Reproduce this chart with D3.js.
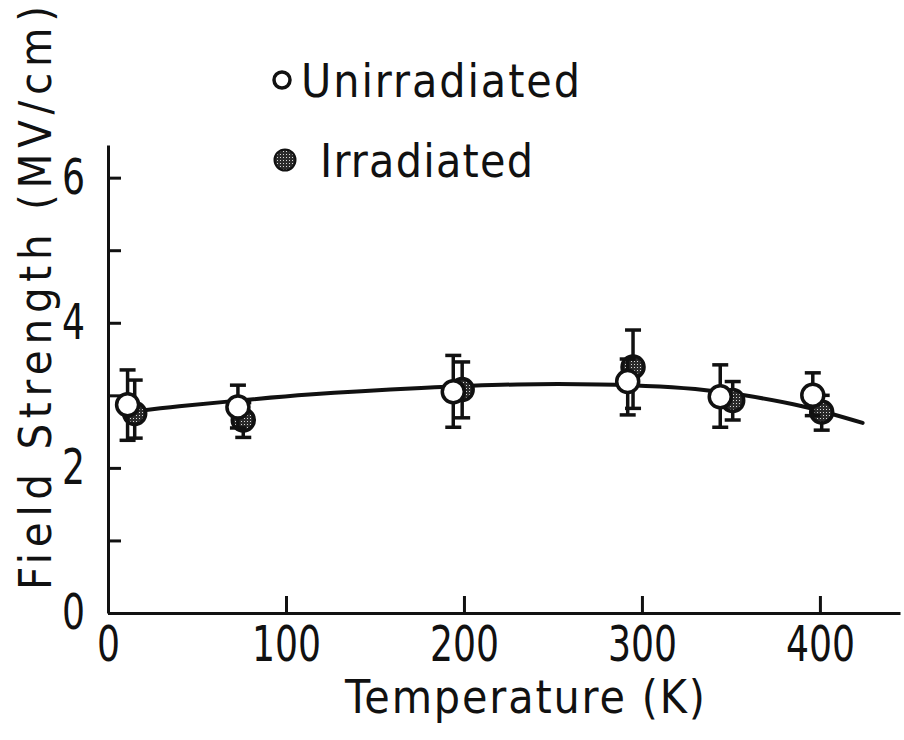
<!DOCTYPE html>
<html>
<head>
<meta charset="utf-8">
<script src="https://cdn.jsdelivr.net/npm/d3@7"></script>
<style>
  html, body { margin: 0; padding: 0; background: #fff; }
  svg { display: block; }
  text { font-family: "DejaVu Sans Condensed", "DejaVu Sans", sans-serif; fill: #111; }
</style>
</head>
<body>
<svg id="chart" width="904" height="740"></svg>
<script>
// Breakdown field strength of the oxide vs. temperature
const temperatures = {
  unirradiated: [11, 73, 194, 292, 344, 396],
  irradiated:   [15, 76, 199, 295, 351, 401]
};
const unirradiatedMean = [2.87, 2.84, 3.05, 3.19, 2.98, 3.00];
const unirradiatedLow  = [2.38, 2.55, 2.56, 2.73, 2.56, 2.72];
const unirradiatedHigh = [3.35, 3.14, 3.55, 3.50, 3.42, 3.31];
const irradiatedMean   = [2.75, 2.66, 3.08, 3.39, 2.93, 2.77];
const irradiatedLow    = [2.41, 2.42, 2.69, 2.82, 2.66, 2.52];
const irradiatedHigh   = [3.21, 2.90, 3.46, 3.90, 3.19, 3.00];

// Hand-drawn trend curve through both data sets
const trendT = [15, 40, 70, 113, 176, 230, 276, 310, 336, 355, 390, 424];
const trendE = [2.78, 2.85, 2.92, 3.01, 3.10, 3.15, 3.15, 3.12, 3.07, 3.01, 2.85, 2.62];

const xTicks = [0, 100, 200, 300, 400];
const yTicks = [0, 1, 2, 3, 4, 5, 6];
const yLabels = [0, 2, 4, 6];

const svg = d3.select("#chart");

const x = d3.scaleLinear().domain([0, 445]).range([108, 900]);
const y = d3.scaleLinear().domain([0, 6.45]).range([613, 145]);

// stipple pattern for the filled (irradiated) symbols
const defs = svg.append("defs");
const pat = defs.append("pattern")
  .attr("id", "stipple").attr("patternUnits", "userSpaceOnUse")
  .attr("width", 3).attr("height", 3);
pat.append("rect").attr("width", 3).attr("height", 3).attr("fill", "#2b2b2b");
pat.append("rect").attr("x", 1).attr("y", 1).attr("width", 1).attr("height", 1).attr("fill", "#d8d8d8");

// narrow, tall digits for the tick labels
function styleTickText(sel) {
  sel.attr("font-size", 49).attr("fill", "#111")
    .attr("lengthAdjust", "spacingAndGlyphs")
    .attr("textLength", function () {
      const s = d3.select(this).text();
      return s.length ? s.length * 23 : null;
    });
}

// axes
const xAxis = d3.axisBottom(x).tickValues(xTicks).tickSizeInner(-17).tickSizeOuter(0)
  .tickPadding(13).tickFormat(d3.format("d"));
const gx = svg.append("g").attr("transform", `translate(0,${y(0)})`).call(xAxis);
gx.select(".domain").attr("stroke", "#111").attr("stroke-width", 3);
gx.selectAll(".tick line").attr("stroke", "#111").attr("stroke-width", 3);
gx.selectAll(".tick text").call(styleTickText);

const yAxis = d3.axisLeft(y).tickValues(yTicks).tickSizeInner(-13).tickSizeOuter(0)
  .tickPadding(23).tickFormat(d => yLabels.includes(d) ? d : "");
const gy = svg.append("g").attr("transform", `translate(${x(0)},0)`).call(yAxis);
gy.select(".domain").attr("stroke", "#111").attr("stroke-width", 3);
gy.selectAll(".tick line").attr("stroke", "#111").attr("stroke-width", 3);
gy.selectAll(".tick text").call(styleTickText);

// axis titles
svg.append("text")
  .attr("x", 345).attr("y", 713)
  .attr("font-size", 46)
  .attr("textLength", 360).attr("lengthAdjust", "spacing")
  .text("Temperature (K)");

svg.append("text")
  .attr("transform", "translate(51,590) rotate(-90)")
  .attr("font-size", 45)
  .attr("textLength", 584).attr("lengthAdjust", "spacing")
  .text("Field Strength (MV/cm)");

// trend curve
const trend = trendT.map((t, i) => [t, trendE[i]]);
svg.append("path")
  .datum(trend)
  .attr("fill", "none").attr("stroke", "#111").attr("stroke-width", 4)
  .attr("stroke-linecap", "round")
  .attr("d", d3.line().x(d => x(d[0])).y(d => y(d[1])).curve(d3.curveCatmullRom));

// data points with error bars
function drawSeries(ts, mean, lo, hi, fill) {
  const data = ts.map((t, i) => ({ t, m: mean[i], lo: lo[i], hi: hi[i] }));
  const g = svg.append("g");
  const bars = g.selectAll("g.bar").data(data).join("g");
  bars.append("line")
    .attr("x1", d => x(d.t)).attr("x2", d => x(d.t))
    .attr("y1", d => y(d.lo)).attr("y2", d => y(d.hi))
    .attr("stroke", "#111").attr("stroke-width", 3.5);
  ["lo", "hi"].forEach(k => {
    bars.append("line")
      .attr("x1", d => x(d.t) - 8).attr("x2", d => x(d.t) + 8)
      .attr("y1", d => y(d[k])).attr("y2", d => y(d[k]))
      .attr("stroke", "#111").attr("stroke-width", 3.5);
  });
  g.selectAll("circle").data(data).join("circle")
    .attr("cx", d => x(d.t)).attr("cy", d => y(d.m)).attr("r", 11)
    .attr("fill", fill).attr("stroke", "#111").attr("stroke-width", 3.5);
}
drawSeries(temperatures.irradiated, irradiatedMean, irradiatedLow, irradiatedHigh, "url(#stipple)");
drawSeries(temperatures.unirradiated, unirradiatedMean, unirradiatedLow, unirradiatedHigh, "#fff");

// legend
svg.append("circle").attr("cx", 282).attr("cy", 80).attr("r", 8)
  .attr("fill", "#fff").attr("stroke", "#111").attr("stroke-width", 3.5);
svg.append("text").attr("x", 301).attr("y", 97).attr("font-size", 46)
  .attr("textLength", 279).attr("lengthAdjust", "spacing").text("Unirradiated");
svg.append("circle").attr("cx", 285).attr("cy", 160).attr("r", 10.5)
  .attr("fill", "url(#stipple)").attr("stroke", "#111").attr("stroke-width", 2);
svg.append("text").attr("x", 320).attr("y", 177).attr("font-size", 46)
  .attr("textLength", 213).attr("lengthAdjust", "spacing").text("Irradiated");
</script>
</body>
</html>
